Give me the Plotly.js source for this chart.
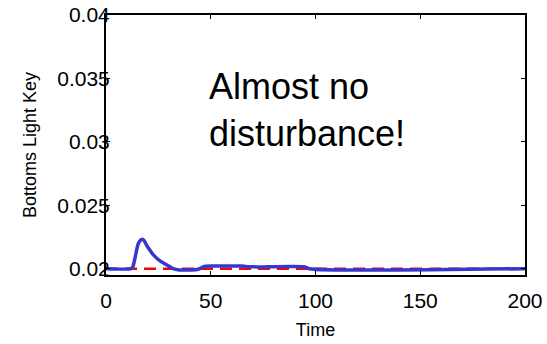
<!DOCTYPE html>
<html>
<head>
<meta charset="utf-8">
<script src="https://cdn.plot.ly/plotly-3.0.1.min.js"></script>
<style>html,body{margin:0;padding:0;background:#fff;}#chart{width:547px;height:344px;}</style>
</head>
<body>
<div id="chart"></div>
<script>
const setpointTime = [0, 200];
const setpointValue = [0.02, 0.02];
const responseTime = [0, 12, 12.7, 13.8, 14.6, 15.4, 16.2, 17, 18, 19.4, 21, 22.6, 25, 27.4, 30, 32, 35, 40, 44, 47, 55, 65, 68, 72, 95, 97, 200];
const responseValue = [0.02, 0.02, 0.0201, 0.0208, 0.02144, 0.02197, 0.0222, 0.02231, 0.02225, 0.02184, 0.02145, 0.02108, 0.02072, 0.02045, 0.0202, 0.02, 0.0199, 0.0199, 0.01995, 0.02018, 0.0202, 0.0202, 0.02016, 0.02014, 0.02014, 0.02, 0.02];
const xTicks = [0, 50, 100, 150, 200];
const yTicks = [0.02, 0.025, 0.03, 0.035, 0.04];
const yTickText = ['0.02', '0.025', '0.03', '0.035', '0.04'];

const font = 'Liberation Sans, Arial, sans-serif';
const traces = [
  {x: setpointTime, y: setpointValue, type: 'scatter', mode: 'lines',
   line: {color: 'rgb(255,0,0)', width: 2.5, dash: '12px,7px'}, hoverinfo: 'skip'},
  {x: responseTime, y: responseValue, type: 'scatter', mode: 'lines',
   line: {color: 'rgb(55,55,205)', width: 3.5, shape: 'spline', smoothing: 0.8}, hoverinfo: 'skip'}
];
const axisCommon = {
  showgrid: false, zeroline: false, showline: true, linecolor: '#000', linewidth: 2,
  mirror: 'ticks', ticks: 'inside', ticklen: 4, tickwidth: 1, tickcolor: '#000',
  tickfont: {family: font, size: 21, color: '#000'}
};
const layout = {
  width: 547, height: 344,
  margin: {l: 106, r: 22, t: 15, b: 69},
  paper_bgcolor: '#fff', plot_bgcolor: '#fff',
  showlegend: false,
  font: {family: font, color: '#000'},
  xaxis: Object.assign({}, axisCommon, {
    range: [0, 200], tickvals: xTicks, ticklabelstandoff: 6,
    title: {text: 'Time', font: {family: font, size: 18, color: '#000'}, standoff: 12}
  }),
  yaxis: Object.assign({}, axisCommon, {
    range: [0.0195, 0.04], tickvals: yTicks, ticktext: yTickText, ticklabelstandoff: -10,
    title: {text: 'Bottoms Light Key', font: {family: font, size: 18, color: '#000'}, standoff: 16}
  }),
  annotations: [{
    x: 48, y: 0.0325, xref: 'x', yref: 'y', xanchor: 'left', yanchor: 'middle', align: 'left',
    text: 'Almost no<br>disturbance!', showarrow: false,
    font: {family: font, size: 36, color: '#000'}
  }]
};
Plotly.newPlot('chart', traces, layout, {staticPlot: true, displayModeBar: false});
</script>
</body>
</html>
